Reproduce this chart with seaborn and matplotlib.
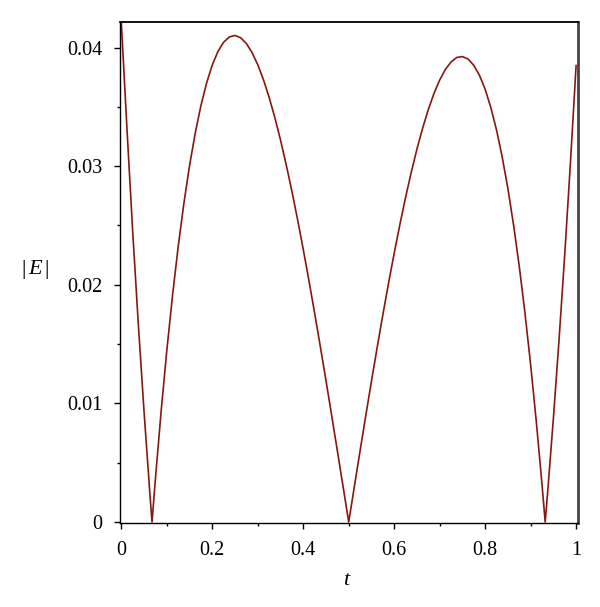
#####################################################################
#   |E| against t  -  error curve
#####################################################################
import numpy as np
import pandas as pd
import matplotlib
matplotlib.use("Agg")
import matplotlib.pyplot as plt
import seaborn as sns
from matplotlib.ticker import MultipleLocator

#####################################################################
#   values
#####################################################################
t_values = [
    0.0, 0.0125, 0.025, 0.0375, 0.05, 0.0625, 0.0675,
    0.075, 0.0875, 0.1, 0.1125, 0.125, 0.1375, 0.15, 0.1625, 0.175, 0.1875,
    0.2, 0.2125, 0.225, 0.2375, 0.25, 0.2625, 0.275, 0.2875, 0.3, 0.3125,
    0.325, 0.3375, 0.35, 0.3625, 0.375, 0.3875, 0.4, 0.4125, 0.425, 0.4375,
    0.45, 0.4625, 0.475, 0.4875, 0.5,
    0.5125, 0.525, 0.5375, 0.55, 0.5625, 0.575, 0.5875, 0.6, 0.6125, 0.625,
    0.6375, 0.65, 0.6625, 0.675, 0.6875, 0.7, 0.7125, 0.725, 0.7375, 0.75,
    0.7625, 0.775, 0.7875, 0.8, 0.8125, 0.825, 0.8375, 0.85, 0.8625, 0.875,
    0.8875, 0.9, 0.9125, 0.925, 0.932,
    0.9375, 0.95, 0.9625, 0.975, 0.9875, 1.0,
]

abs_E = [
    0.0421, 0.0331, 0.0245, 0.0166, 0.0093, 0.00255, 0.0,
    0.00366, 0.00932, 0.01445, 0.01907, 0.02320, 0.02685, 0.03004, 0.03278, 0.03510, 0.03701,
    0.03853, 0.03967, 0.04045, 0.04089, 0.04102, 0.04082, 0.04034, 0.03957, 0.03855, 0.03729,
    0.03580, 0.03410, 0.03221, 0.03013, 0.02790, 0.02551, 0.02299, 0.02036, 0.01762, 0.01481,
    0.01193, 0.00899, 0.00601, 0.00301, 0.0,
    0.00302, 0.00601, 0.00897, 0.01187, 0.01471, 0.01746, 0.02012, 0.02266, 0.02508, 0.02736,
    0.02948, 0.03144, 0.03320, 0.03477, 0.03613, 0.03726, 0.03815, 0.03878, 0.03916, 0.03924,
    0.03903, 0.03850, 0.03766, 0.03648, 0.03494, 0.03305, 0.03077, 0.02811, 0.02503, 0.02155,
    0.01763, 0.01327, 0.00845, 0.00317, 0.0,
    0.00256, 0.00873, 0.01539, 0.02257, 0.03028, 0.0385,
]

x_ticks = [0, 0.2, 0.4, 0.6, 0.8, 1]
x_tick_labels = ["0", "0.2", "0.4", "0.6", "0.8", "1"]
y_ticks = [0, 0.01, 0.02, 0.03, 0.04]
y_tick_labels = ["0", "0.01", "0.02", "0.03", "0.04"]

df = pd.DataFrame({"t": t_values, "E": abs_E})

#####################################################################
#   plot
#####################################################################
def plot_error():

    sns.set_theme(style="white")
    plt.rcParams["font.family"] = ["Liberation Serif", "DejaVu Serif"]
    plt.rcParams["mathtext.fontset"] = "custom"
    plt.rcParams["mathtext.rm"] = "Liberation Serif"
    plt.rcParams["mathtext.it"] = "Liberation Serif:italic"

    fig = plt.figure(figsize=(6.0, 6.07), dpi=100)
    ax = fig.add_axes([0.2, 0.1384, 0.763, 0.8259])

    sns.lineplot(data=df, x="t", y="E", ax=ax, color="#85170f",
                 linewidth=1.2, sort=False, estimator=None)

    ax.set_xlim(-0.0029, 1.0037)
    ax.set_ylim(-0.00008, 0.04218)

    ax.set_xticks(x_ticks)
    ax.set_xticklabels(x_tick_labels)
    ax.set_yticks(y_ticks)
    ax.set_yticklabels(y_tick_labels)
    ax.xaxis.set_minor_locator(MultipleLocator(0.1))
    ax.yaxis.set_minor_locator(MultipleLocator(0.005))

    ax.tick_params(axis="both", which="major", direction="out", length=4,
                   width=1, color="black", labelsize=14.5, labelcolor="black")
    ax.tick_params(axis="both", which="minor", direction="out", length=2.5,
                   width=1, color="black")
    ax.tick_params(axis="x", which="both", bottom=True, pad=9)
    ax.tick_params(axis="y", which="both", left=True, pad=8.5)

    for side in ["left", "bottom", "top"]:
        ax.spines[side].set_color("black")
        ax.spines[side].set_linewidth(1.0)
    ax.spines["top"].set_linewidth(1.3)
    ax.spines["right"].set_color("#444444")
    ax.spines["right"].set_linewidth(2.0)

    ax.set_xlabel("")
    ax.set_ylabel("")
    ax.text(-0.186, 0.505, r"$|\,E\,|$", transform=ax.transAxes,
            ha="center", va="center", fontsize=16, color="black")
    ax.text(0.497, -0.114, r"$t$", transform=ax.transAxes,
            ha="center", va="center", fontsize=16, color="black")

    fig.savefig("out.png", dpi=100)


def main():
    plot_error()


if __name__ == "__main__":
    main()
